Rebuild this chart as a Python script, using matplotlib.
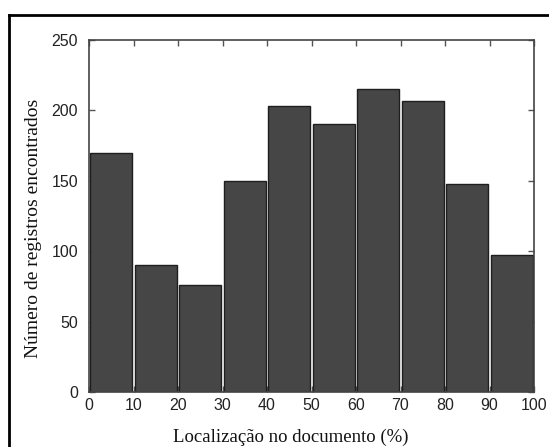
import matplotlib
matplotlib.use("Agg")
import matplotlib.pyplot as plt
from matplotlib.lines import Line2D

bin_left = [0, 10, 20, 30, 40, 50, 60, 70, 80, 90]
counts = [170, 90, 76, 150, 203, 190, 215, 207, 148, 97]
xticks = [0, 10, 20, 30, 40, 50, 60, 70, 80, 90, 100]
yticks = [0, 50, 100, 150, 200, 250]

W, H = 549, 447
fig = plt.figure(figsize=(W/100, H/100), dpi=100)
l, r, t, b = 89, 534, 40, 392
ax = fig.add_axes([l/W, 1-b/H, (r-l)/W, (b-t)/H])

centers = [x + 5 for x in bin_left]
ax.bar(centers, counts, width=9.4, color='#464646', edgecolor='#1e1e1e', linewidth=1.0, zorder=2)

ax.set_xlim(0, 100)
ax.set_ylim(0, 250)
ax.set_xticks(xticks)
ax.set_yticks(yticks)
ax.tick_params(direction='in', top=True, right=True, length=4, width=1, colors='#555555',
               labelcolor='#222222', labelsize=11.5, pad=4)
ax.tick_params(axis='y', pad=8)
for lab in ax.get_xticklabels() + ax.get_yticklabels():
    lab.set_family('Liberation Sans')
for s in ax.spines.values():
    s.set_color('#444444')
    s.set_linewidth(1.2)

ax.set_xlabel('Localização no documento (%)', family='Liberation Serif', fontsize=13.5, color='#111111',
              va='center', ha='center')
ax.set_ylabel('Número de registros encontrados', family='Liberation Serif', fontsize=14, color='#111111',
              va='center', ha='center')
ax.xaxis.set_label_coords(0.454, -0.128)
ax.yaxis.set_label_coords(-0.125, 0.466)

fig.add_artist(Line2D([9/W, 1], [1-15/H, 1-15/H], color='black', lw=2))
fig.add_artist(Line2D([9/W, 9/W], [1-15/H, 0], color='black', lw=2))

fig.savefig('out.png', dpi=100)
